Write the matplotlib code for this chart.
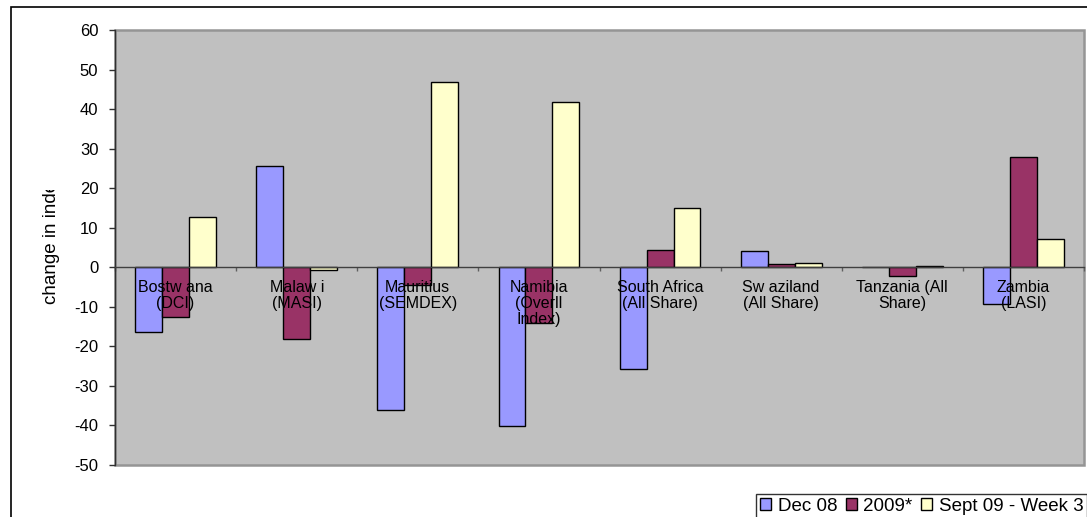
import matplotlib
matplotlib.use("Agg")
import matplotlib.pyplot as plt
from matplotlib.patches import Rectangle
from matplotlib.transforms import Bbox
import numpy as np

categories = ["Bostw ana\n(DCI)", "Malaw i\n(MASI)", "Mauritius\n(SEMDEX)",
              "Namibia\n(Overll\nIndex)", "South Africa\n(All Share)",
              "Sw aziland\n(All Share)", "Tanzania (All\nShare)", "Zambia\n(LASI)"]
series_names = ["Dec 08", "2009*", "Sept 09 - Week 3"]
dec08 = [-16.4, 25.7, -36.1, -40.2, -25.6, 4.0, 0.0, -9.3]
y2009 = [-12.6, -18.2, -4.4, -14.2, 4.4, 0.8, -2.2, 27.8]
sept09 = [12.8, -0.8, 46.8, 41.7, 15.1, 1.1, 0.3, 7.1]
y_ticks = list(range(-50, 61, 10))
y_label = "change in index"

colors = ["#9999FF", "#993366", "#FFFFCC"]

plt.rcParams['font.family'] = ['Liberation Sans', 'DejaVu Sans']

W, H = 1087, 517
fig = plt.figure(figsize=(W / 100, H / 100), dpi=100)
fig.patch.set_facecolor("white")

# outer chart frame (extends past right/bottom edges)
fig.patches.append(Rectangle((11 / W, -0.2), 1.5, (H - 7) / H + 0.2, transform=fig.transFigure,
                             fill=False, edgecolor="black", linewidth=1.2, clip_on=False))

left, right, top, bottom = 115, 1084, 30, 465
ax = fig.add_axes([left / W, (H - bottom) / H, (right - left) / W, (bottom - top) / H])
ax.set_facecolor("#C0C0C0")

x = np.arange(len(categories))
bw = 1 / 4.5
for k, (vals, c, name) in enumerate(zip([dec08, y2009, sept09], colors, series_names)):
    ax.bar(x + (k - 1) * bw, vals, width=bw, color=c, edgecolor="black",
           linewidth=1.0, label=name, zorder=2)

ax.set_xlim(-0.5, len(categories) - 0.5)
ax.set_ylim(-50, 60)
ax.set_yticks(y_ticks)
ax.set_yticklabels([str(t) for t in y_ticks], fontsize=12)
ax.tick_params(axis="y", direction="out", length=4, width=1, pad=8, color="#303030")

ax.set_xticks(np.arange(-0.5, len(categories), 1.0))
ax.set_xticklabels([])
ax.tick_params(axis="x", direction="out", length=3, width=1, color="#606060")

for s in ["top", "right"]:
    ax.spines[s].set_visible(False)
ax.spines["bottom"].set_position(("data", 0))
ax.spines["bottom"].set_color("#404040")
ax.spines["bottom"].set_linewidth(1.0)
ax.spines["bottom"].set_zorder(3)
ax.spines["left"].set_color("#303030")
ax.spines["left"].set_linewidth(1.0)

# plot-area border
ax.add_patch(Rectangle((0, 0), 1, 1, transform=ax.transAxes, fill=False,
                       edgecolor="#959595", linewidth=1.8, clip_on=False, zorder=0.5))

for i, lab in enumerate(categories):
    ax.annotate(lab, xy=(i, 0), xytext=(0, -9), textcoords="offset points",
                ha="center", va="top", fontsize=11.5, linespacing=1.08, zorder=5,
                annotation_clip=False)

# y label clipped like the reference
yl = fig.text(51 / W, (H - 304) / H, y_label, rotation=90, ha="center", va="bottom",
              fontsize=13.5)
yl.set_clip_on(True)
yl.set_clip_box(Bbox([[0, 0], [110, H - 190]]))

leg = fig.legend(loc="upper left", bbox_to_anchor=(756 / W, 1 - 494 / H), ncol=3,
                 fontsize=13.5, frameon=True, fancybox=False, borderaxespad=0,
                 handlelength=0.6, handleheight=0.6, handletextpad=0.35,
                 columnspacing=0.45, borderpad=0.2)
leg.get_frame().set_edgecolor("black")
leg.get_frame().set_linewidth(1.0)

fig.savefig("out.png", dpi=100)
